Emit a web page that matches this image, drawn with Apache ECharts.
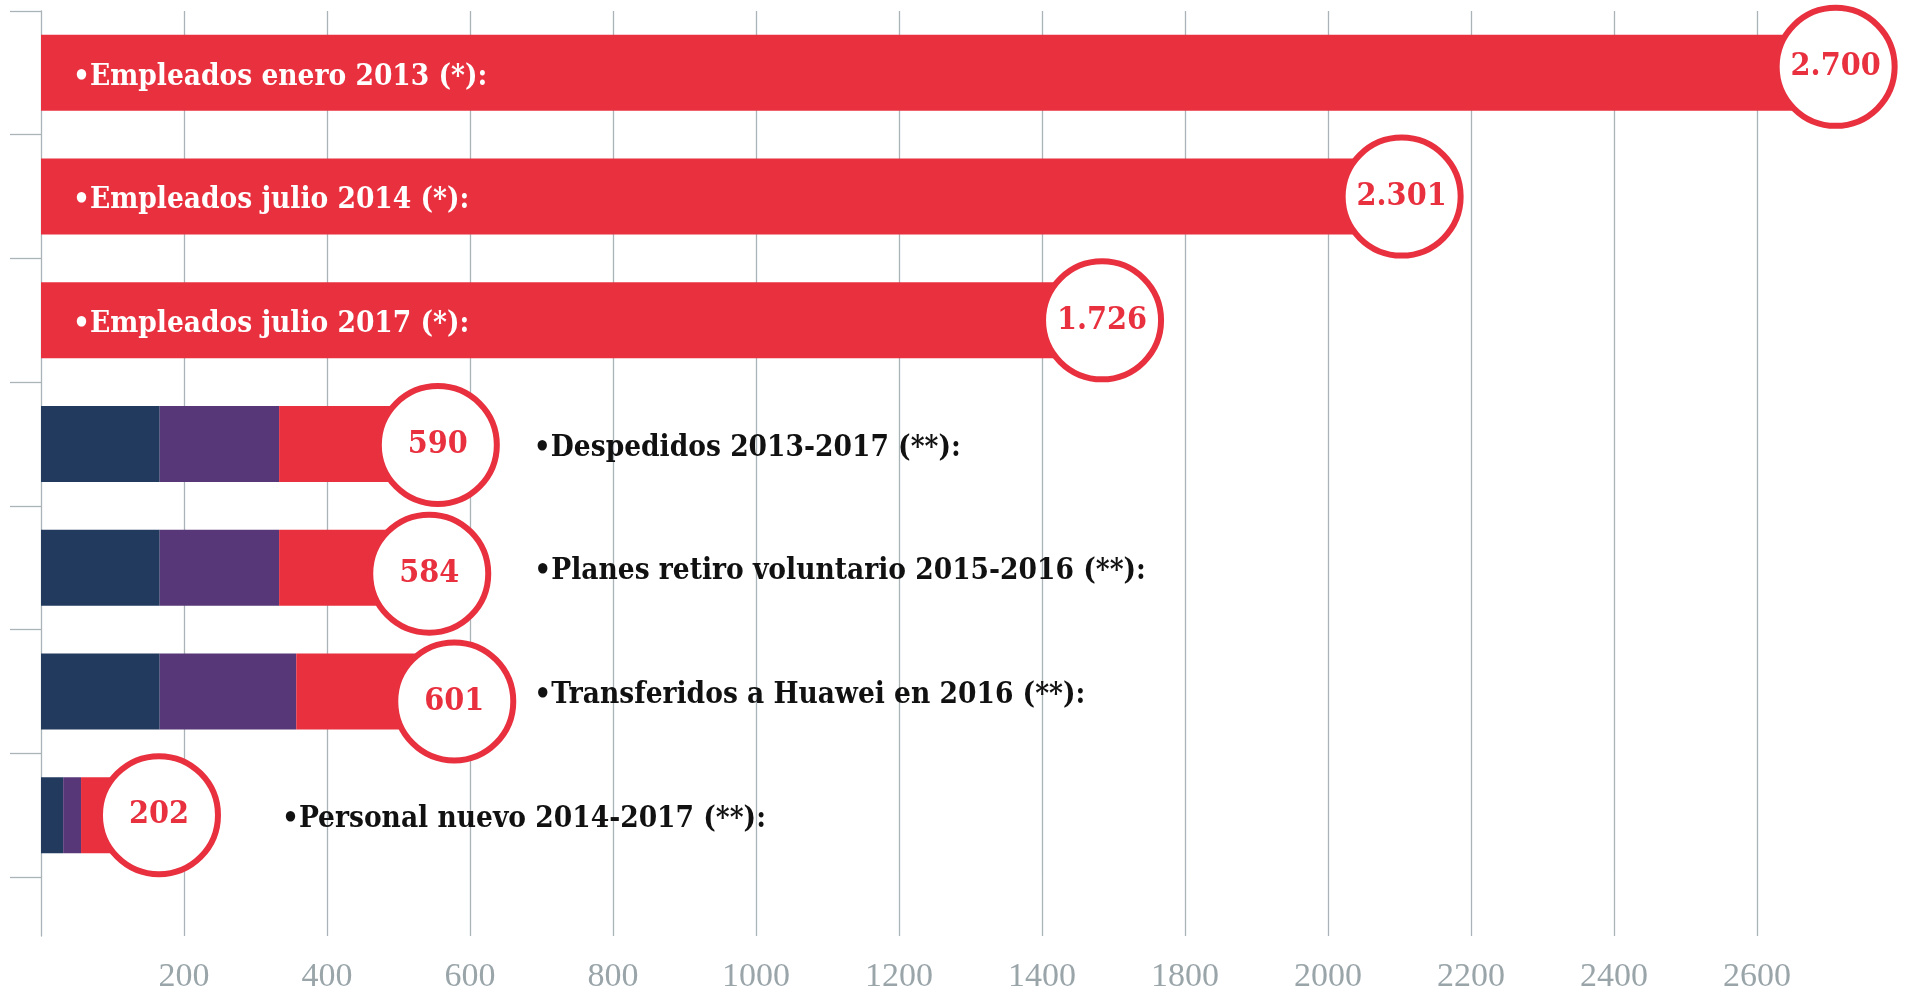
<!DOCTYPE html>
<html>
<head>
<meta charset="utf-8">
<title>Empleados</title>
<script src="https://cdn.jsdelivr.net/npm/echarts@6/dist/echarts.min.js"></script>
<style>
  html, body { margin: 0; padding: 0; background: #fff; }
  #chart { width: 1912px; height: 994px; }
</style>
</head>
<body>
<div id="chart"></div>
<script>
// filas, de arriba abajo
const categories = [
  '•Empleados enero 2013 (*):',
  '•Empleados julio 2014 (*):',
  '•Empleados julio 2017 (*):',
  '•Despedidos 2013-2017 (**):',
  '•Planes retiro voluntario 2015-2016 (**):',
  '•Transferidos a Huawei en 2016 (**):',
  '•Personal nuevo 2014-2017 (**):'
]
// cifras de los círculos
const totals = ['2.700', '2.301', '1.726', '590', '584', '601', '202']
// tramos de cada barra, leídos sobre el eje del original
const navySeg = [0, 0, 0, 166, 166, 166, 31]
const purpleSeg = [0, 0, 0, 167, 167, 191, 25]
const redSeg = [2510, 1903, 1484, 222, 210, 221, 109]
// etiquetas del eje tal como aparecen (el original se salta el 1600)
const tickLabels = ['200', '400', '600', '800', '1000', '1200', '1400', '1800', '2000', '2200', '2400', '2600']

const RED = '#e8303f'
const NAVY = '#223a5e'
const PURPLE = '#573777'
const GRID = '#aab4b8'
const serif = '"DejaVu Serif Condensed", "DejaVu Serif", serif'

// separación del texto respecto al inicio/fin de la barra
const textGap = [32, 32, 32, 96, 105, 80, 123]
// los círculos no están todos centrados en su barra
const circleShift = [-6, 0, 0, 1, 6, 10, 0]

const myChart = echarts.init(document.getElementById('chart'))

const xBase = {
    type: 'value',
    min: 0,
    max: 2600,
    interval: 200,
    axisLine: { show: false },
    axisTick: { show: false },
    splitLine: {
        show: true,
        showMinLine: false,
        showMaxLine: false,
        lineStyle: { color: GRID, width: 1.3 }
    }
}

const option = {
    backgroundColor: '#fff',
    animation: false,
    grid: [
        { left: 41, top: 11, width: 1859, height: 866 },
        { left: 41, top: 877, width: 1859, height: 66 }
    ],
    xAxis: [
        Object.assign({}, xBase, { gridIndex: 0, axisLabel: { show: false } }),
        Object.assign({}, xBase, {
            gridIndex: 1,
            axisLabel: {
                show: true,
                margin: 24,
                showMinLabel: false,
                showMaxLabel: false,
                color: '#9aa5aa',
                fontFamily: '"Liberation Serif", serif',
                fontSize: 34,
                formatter: (v) => tickLabels[v / 200 - 1] || ''
            }
        })
    ],
    yAxis: [
        {
            gridIndex: 0,
            type: 'category',
            inverse: true,
            data: categories,
            axisLine: { show: true, lineStyle: { color: GRID, width: 1.3 } },
            axisTick: { show: true, length: 31, lineStyle: { color: GRID, width: 1.3 } },
            axisLabel: { show: false },
            splitLine: { show: false }
        },
        {
            gridIndex: 1,
            type: 'value',
            min: 0,
            max: 1,
            axisLine: { show: true, onZero: false, lineStyle: { color: GRID, width: 1.3 } },
            axisTick: { show: false },
            axisLabel: { show: false },
            splitLine: { show: false }
        }
    ],
    series: [
        {
            name: 'tramo1',
            type: 'bar',
            stack: 'total',
            barWidth: 76,
            itemStyle: { color: NAVY },
            data: navySeg
        },
        {
            name: 'tramo2',
            type: 'bar',
            stack: 'total',
            barWidth: 76,
            itemStyle: { color: PURPLE },
            data: purpleSeg
        },
        {
            name: 'tramo3',
            type: 'bar',
            stack: 'total',
            barWidth: 76,
            itemStyle: { color: RED },
            label: {
                show: true,
                fontFamily: serif,
                fontWeight: 'bold',
                fontSize: 29.5,
                offset: [0, 4],
                formatter: (p) => p.name
            },
            data: redSeg.map((v, i) => ({
                value: v,
                label: i < 3
                    ? { position: 'insideLeft', distance: textGap[i], color: '#fff' }
                    : { position: 'right', distance: textGap[i], color: '#111' }
            }))
        },
        {
            name: 'total',
            type: 'scatter',
            z: 5,
            symbol: 'circle',
            symbolSize: 118,
            itemStyle: { color: '#fff', borderColor: RED, borderWidth: 6, opacity: 1 },
            label: {
                show: true,
                position: 'inside',
                color: RED,
                fontFamily: serif,
                fontWeight: 'bold',
                fontSize: 32,
                formatter: (p) => totals[p.dataIndex]
            },
            data: categories.map((c, i) => ({
                value: [navySeg[i] + purpleSeg[i] + redSeg[i], i],
                symbolOffset: [0, circleShift[i]]
            }))
        }
    ]
}

option && myChart.setOption(option)
</script>
</body>
</html>
